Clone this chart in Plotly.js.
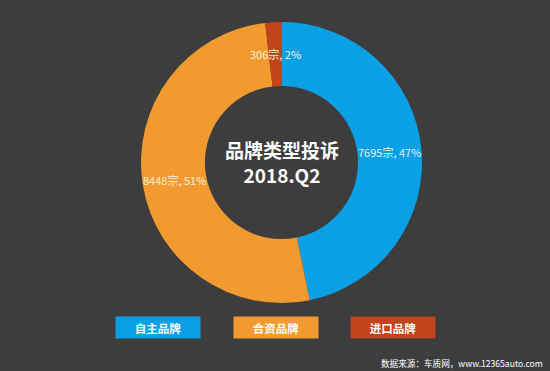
<!DOCTYPE html>
<html><head><meta charset="utf-8">
<script src="https://cdn.plot.ly/plotly-3.0.1.min.js"></script>
<style>html,body{margin:0;padding:0;background:#3d3d3d;}#chart{width:550px;height:371px;}</style>
</head><body><div id="chart"></div>
<script>
const categories = ['自主品牌', '合资品牌', '进口品牌'];
const complaints = [7695, 8448, 306];
const unitLabel = '宗';
const centerTitle = ['品牌类型投诉', '2018.Q2'];
const sourceNote = '数据来源：车质网，www.12365auto.com';

const colors = ['#0aa0e6', '#f19a30', '#c1441a'];
const labelColors = ['#e2f3fd', '#fff0d6', '#fff0d6'];
const W = 550, H = 371;
const cx = 281.5, cy = 162.5, R = 140.5, hole = 0.545;
const font = '"Noto Sans CJK SC", "Noto Sans", sans-serif';

const total = complaints.reduce((a, b) => a + b, 0);
const annotations = [];
let cum = 0;
complaints.forEach((v, i) => {
  const frac = v / total;
  const mid = (cum + frac / 2) * 2 * Math.PI;
  cum += frac;
  const r = R * (1 + hole) / 2;
  const px = cx + r * Math.sin(mid), py = cy - r * Math.cos(mid);
  annotations.push({
    x: px / W, y: 1 - py / H, xref: 'paper', yref: 'paper', showarrow: false,
    xanchor: 'center', yanchor: 'middle',
    text: v + unitLabel + ', ' + Math.round(frac * 100) + '%',
    font: {family: font, size: 11, color: labelColors[i]}
  });
});
annotations.push({
  x: cx / W, y: 1 - 161.5 / H, xref: 'paper', yref: 'paper', showarrow: false,
  xanchor: 'center', yanchor: 'middle',
  text: '<b>' + centerTitle.join('<br>') + '</b>',
  font: {family: font, size: 19, color: '#ffffff'}
});
const legX = [158, 275.5, 392.5];
categories.forEach((c, i) => {
  annotations.push({
    x: legX[i] / W, y: 1 - 327.5 / H, xref: 'paper', yref: 'paper', showarrow: false,
    xanchor: 'center', yanchor: 'middle',
    text: '<b>' + c + '</b>', width: 84, height: 21, bgcolor: colors[i], borderpad: 0,
    font: {family: font, size: 11.5, color: '#ffffff'}, align: 'center', valign: 'middle'
  });
});
annotations.push({
  x: 545 / W, y: 1 - 362.5 / H, xref: 'paper', yref: 'paper', showarrow: false,
  xanchor: 'right', yanchor: 'middle', text: sourceNote,
  font: {family: font, size: 8.6, color: '#ffffff'}
});

const data = [{
  type: 'pie', labels: categories, values: complaints, hole: hole,
  sort: false, direction: 'clockwise', rotation: 0,
  marker: {colors: colors, line: {width: 0}},
  textinfo: 'none', hoverinfo: 'none',
  domain: {x: [(cx - R) / W, (cx + R) / W], y: [1 - (cy + R) / H, 1 - (cy - R) / H]}
}];
const layout = {
  width: W, height: H, margin: {l: 0, r: 0, t: 0, b: 0},
  paper_bgcolor: '#3d3d3d', plot_bgcolor: '#3d3d3d', showlegend: false,
  annotations: annotations
};
Plotly.newPlot('chart', data, layout, {displayModeBar: false, staticPlot: true});
</script></body></html>
